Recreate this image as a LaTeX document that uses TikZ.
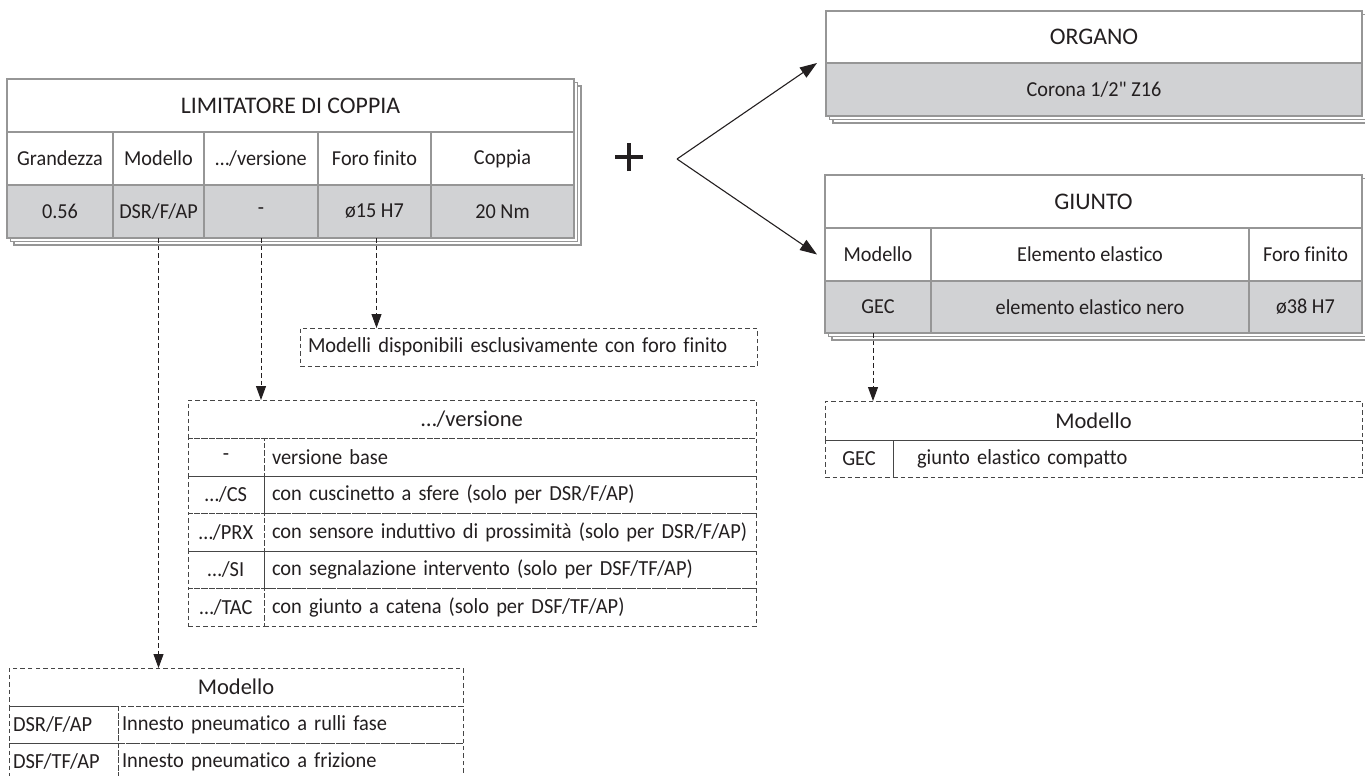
\documentclass[tikz,border=0pt]{standalone}
\usepackage{fontspec}
\setmainfont{Carlito}
\newfontfamily\cf{Carlito}[Ligatures=NoCommon]
\newfontfamily\cfn{Carlito}[Ligatures=NoCommon,FakeStretch=0.95]
\usetikzlibrary{arrows.meta}
\definecolor{txt}{RGB}{35,31,32}
\definecolor{lgray}{RGB}{150,150,150}
\definecolor{cfill}{RGB}{209,210,212}
\definecolor{dline}{RGB}{70,70,70}
\tikzset{
  tcell/.style={draw=lgray,line width=1.3pt,fill=white,inner sep=0pt,outer sep=0pt,text=txt,font=\cfn\fontsize{21.3}{25}\selectfont},
  gcell/.style={tcell,fill=cfill},
  ttl/.style={font=\cf\fontsize{23.8}{27}\selectfont},
  dcell/.style={draw=dline,line width=0.9pt,dash pattern=on 4.5pt off 3pt,inner sep=0pt,outer sep=0pt,text=txt,font=\cfn\fontsize{21.5}{25}\selectfont},
  dttl/.style={font=\cf\fontsize{22.5}{26}\selectfont},
  shadowbox/.style={draw=lgray,line width=1.3pt,fill=white},
  conn/.style={draw=txt,line width=0.9pt,dash pattern=on 4.5pt off 3pt,-{Triangle[length=14pt,width=10pt]}},
  fork/.style={draw=txt,line width=1.1pt,-{Triangle[length=17pt,width=12pt]}},
  plusbar/.style={draw=txt,line width=3.2pt},
}
\newcommand\cell[7]{\node[#6,minimum width={#4pt-#2pt},minimum height={#5pt-#3pt}] (#1) at ({(#2+#4)/2},{(#3+#5)/2}) {#7};}
\newcommand\lcell[8]{\node[#6,minimum width={#4pt-#2pt},minimum height={#5pt-#3pt},inner xsep=#8,text width={#4pt-#2pt-2*#8},align=left] (#1) at ({(#2+#4)/2},{(#3+#5)/2}) {#7};}
\newcommand\stack[4]{%
  \path[shadowbox] ({#1+7},{#2+7}) rectangle ({#3+7},{#4+7});
  \path[shadowbox] ({#1+3.5},{#2+3.5}) rectangle ({#3+3.5},{#4+3.5});}
\begin{document}
\begin{tikzpicture}[x=1pt,y=-1pt]
\useasboundingbox (0,0) rectangle (1365,776);
\clip (0,0) rectangle (1365,776);
% ---------- LIMITATORE DI COPPIA ----------
\stack{7}{79}{574}{238}
\cell{lim}{7}{79}{574}{132}{tcell,ttl}{LIMITATORE DI COPPIA}
\cell{lh1}{7}{132}{113}{185}{tcell}{Grandezza}
\cell{lh2}{113}{132}{204}{185}{tcell}{Modello}
\cell{lh3}{204}{132}{318}{185}{tcell}{…/versione}
\cell{lh4}{318}{132}{431}{185}{tcell}{Foro finito}
\cell{lh5}{431}{132}{574}{185}{tcell}{Coppia}
\cell{ld1}{7}{185}{113}{238}{gcell}{0.56}
\cell{ld2}{113}{185}{204}{238}{gcell}{DSR/F/AP}
\cell{ld3}{204}{185}{318}{238}{gcell}{-}
\cell{ld4}{318}{185}{431}{238}{gcell}{ø15 H7}
\cell{ld5}{431}{185}{574}{238}{gcell}{20 Nm}
% ---------- plus and fork ----------
\coordinate (plus) at (629,157);
\draw[plusbar] ([xshift=-14pt]plus) -- ([xshift=14pt]plus);
\draw[plusbar] ([yshift=-14pt]plus) -- ([yshift=14pt]plus);
\coordinate (fk) at (677,159);
% ---------- ORGANO ----------
\stack{826}{11}{1362}{116}
\cell{org}{826}{11}{1362}{63}{tcell,ttl}{ORGANO}
\cell{orgd}{826}{63}{1362}{116}{gcell}{Corona 1/2" Z16}
% ---------- GIUNTO ----------
\stack{825}{175}{1362}{333}
\cell{giu}{825}{175}{1362}{228}{tcell,ttl}{GIUNTO}
\cell{gh1}{825}{228}{931}{281}{tcell}{Modello}
\cell{gh2}{931}{228}{1249}{281}{tcell}{Elemento elastico}
\cell{gh3}{1249}{228}{1362}{281}{tcell}{Foro finito}
\cell{gd1}{825}{281}{931}{333}{gcell}{GEC}
\cell{gd2}{931}{281}{1249}{333}{gcell}{elemento elastico nero}
\cell{gd3}{1249}{281}{1362}{333}{gcell}{ø38 H7}
\draw[fork] (fk) -- ([xshift=-9pt]org.south west);
\draw[fork] (fk) -- ([xshift=-8pt]gh1.west);
% ---------- Modelli disponibili ----------
\lcell{mdisp}{300}{328}{757}{366}{dcell}{Modelli disponibili esclusivamente con foro finito}{8pt}
% ---------- .../versione ----------
\cell{ver}{188}{400}{756}{438}{dcell,dttl}{…/versione}
\cell{v1a}{188}{438}{264}{476}{dcell}{-}
\lcell{v1b}{264}{438}{756}{476}{dcell}{versione base}{8pt}
\cell{v2a}{188}{476}{264}{513}{dcell}{…/CS}
\lcell{v2b}{264}{476}{756}{513}{dcell}{con cuscinetto a sfere (solo per DSR/F/AP)}{8pt}
\cell{v3a}{188}{513}{264}{551}{dcell}{…/PRX}
\lcell{v3b}{264}{513}{756}{551}{dcell}{con sensore induttivo di prossimità (solo per DSR/F/AP)}{8pt}
\cell{v4a}{188}{551}{264}{588}{dcell}{…/SI}
\lcell{v4b}{264}{551}{756}{588}{dcell}{con segnalazione intervento (solo per DSF/TF/AP)}{8pt}
\cell{v5a}{188}{588}{264}{626}{dcell}{…/TAC}
\lcell{v5b}{264}{588}{756}{626}{dcell}{con giunto a catena (solo per DSF/TF/AP)}{8pt}
% ---------- Modello (bottom left) ----------
\cell{mod}{9}{668}{463}{706}{dcell,dttl}{Modello}
\lcell{m1a}{9}{706}{118}{743}{dcell}{DSR/F/AP}{4pt}
\lcell{m1b}{118}{706}{463}{743}{dcell}{Innesto pneumatico a rulli fase}{4pt}
\lcell{m2a}{9}{743}{118}{780}{dcell}{DSF/TF/AP}{4pt}
\lcell{m2b}{118}{743}{463}{780}{dcell}{Innesto pneumatico a frizione}{4pt}
% ---------- Modello (right) ----------
\cell{gmod}{825}{401}{1362}{440}{dcell,dttl}{Modello}
\cell{gm1}{825}{440}{893}{477}{dcell}{GEC}
\lcell{gm2}{893}{440}{1362}{477}{dcell}{giunto elastico compatto}{24pt}
% ---------- connectors ----------
\draw[conn] (ld2.south) -- (ld2.south |- mod.north);
\draw[conn] (ld3.south) -- (ld3.south |- ver.north);
\draw[conn] ([xshift=2pt]ld4.south) -- ([xshift=2pt]ld4.south |- mdisp.north);
\draw[conn] ([xshift=-5pt]gd1.south) -- ([xshift=-5pt]gd1.south |- gmod.north);
\end{tikzpicture}
\end{document}
